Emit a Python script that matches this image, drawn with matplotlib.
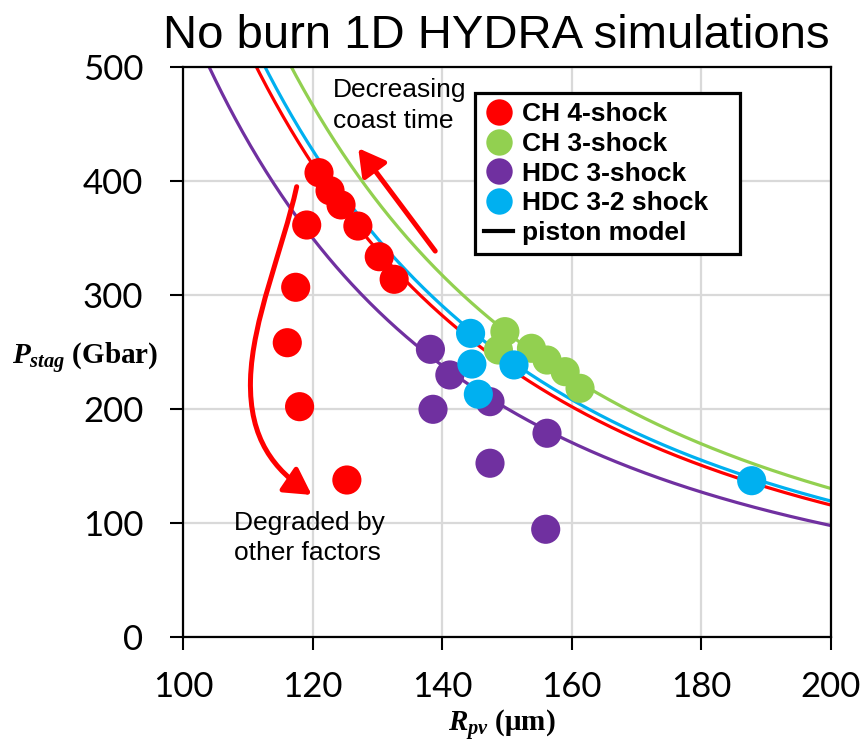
import matplotlib
matplotlib.use('Agg')
import matplotlib.pyplot as plt
import numpy as np
from matplotlib.lines import Line2D
from matplotlib.patches import FancyArrowPatch
from matplotlib.path import Path

plt.rcParams['font.family'] = ['Liberation Sans', 'DejaVu Sans']
plt.rcParams['mathtext.fontset'] = 'custom'
plt.rcParams['mathtext.it'] = 'Liberation Serif:italic:bold'
plt.rcParams['mathtext.rm'] = 'Liberation Serif:bold'
plt.rcParams['mathtext.bf'] = 'Liberation Serif:bold'

# ---------------- data ----------------
ch4_R = [121.0, 122.7, 124.4, 127.0, 130.3, 132.6, 119.1, 117.4, 116.1, 118.0, 125.3]
ch4_P = [406.9, 391.1, 378.6, 360.1, 333.2, 313.4, 361.0, 306.4, 257.8, 201.7, 137.4]

ch3_R = [149.7, 148.7, 153.8, 156.2, 159.0, 161.3]
ch3_P = [267.5, 251.4, 252.9, 242.6, 232.4, 217.8]

hdc3_R = [138.2, 141.2, 138.6, 147.4, 156.2, 147.4, 156.0]
hdc3_P = [252.0, 229.5, 199.4, 206.1, 178.4, 152.1, 94.2]

hdc32_R = [144.4, 144.6, 145.6, 151.1, 187.8]
hdc32_P = [266.0, 239.1, 212.6, 238.3, 136.8]

series_labels = ['CH 4-shock', 'CH 3-shock', 'HDC 3-shock', 'HDC 3-2 shock']
series_colors = ['#ff0000', '#92d050', '#7030a0', '#00b0f0']

# piston model: P = P_200 * (200 / R)^n
piston_P_at_200 = [115.5, 130.0, 97.5, 119.0]   # red, green, purple, blue
piston_colors = ['#ff0000', '#92d050', '#7030a0', '#00b0f0']
piston_exponent = 2.5

x_ticks = [100, 120, 140, 160, 180, 200]
y_ticks = [0, 100, 200, 300, 400, 500]

# ---------------- figure ----------------
W, H = 865, 747
fig = plt.figure(figsize=(W / 100, H / 100), dpi=100)
ax = fig.add_axes([183 / W, (H - 636.7) / H, 647.7 / W, 570.2 / H])

R = np.linspace(100, 200, 500)
for p200, c in zip(piston_P_at_200, piston_colors):
    ax.plot(R, p200 * (200.0 / R) ** piston_exponent, color=c, lw=2.3, zorder=2)

for xs, ys, c in zip([ch4_R, ch3_R, hdc3_R, hdc32_R],
                     [ch4_P, ch3_P, hdc3_P, hdc32_P], series_colors):
    ax.scatter(xs, ys, s=440, color=c, edgecolors='none', zorder=3)

ax.set_xlim(100, 200)
ax.set_ylim(0, 500)
ax.set_xticks(x_ticks)
ax.set_yticks(y_ticks)
ax.grid(True, color='#d9d9d9', lw=1.6)
ax.set_axisbelow(True)
for s in ax.spines.values():
    s.set_color('black')
    s.set_linewidth(1.6)
ax.tick_params(direction='out', length=9.5, width=1.5, labelsize=25, colors='black')
ax.tick_params(axis='y', pad=19)
ax.tick_params(axis='x', pad=15)
for lab in ax.get_xticklabels() + ax.get_yticklabels():
    lab.set_fontfamily('Lato')

# arrows
arr1 = FancyArrowPatch((139.2, 336.2), (126.8, 430.3),
                       arrowstyle='-|>,head_length=0.8,head_width=0.45',
                       mutation_scale=20, color='#ff0000', lw=3.6, zorder=4)
ax.add_patch(arr1)

verts = [(117.55, 394.6), (115.4, 339.1), (110.65, 277.7), (110.42, 225.1),
         (110.19, 172.5), (114.2, 146.2), (119.87, 124.3)]
codes = [Path.MOVETO, Path.CURVE4, Path.CURVE4, Path.CURVE4,
         Path.CURVE4, Path.CURVE4, Path.CURVE4]
arr2 = FancyArrowPatch(path=Path(verts, codes),
                       arrowstyle='-|>,head_length=0.8,head_width=0.45',
                       mutation_scale=20, color='#ff0000', lw=3.6, zorder=4)
ax.add_patch(arr2)

# annotations
ax.text(123.2, 489.5, 'Decreasing\ncoast time', fontsize=19, ha='left', va='top',
        linespacing=1.32, zorder=5)
ax.text(107.8, 110.5, 'Degraded by\nother factors', fontsize=19, ha='left', va='top',
        linespacing=1.32, zorder=5)

# legend
handles = [Line2D([], [], marker='o', ls='none', markersize=19,
                  markerfacecolor=c, markeredgecolor='none') for c in series_colors]
handles.append(Line2D([], [], color='black', lw=3))
labels = series_labels + ['piston model']
leg = ax.legend(handles, labels, loc='upper left',
                bbox_to_anchor=(0.4508, 0.0, 0.409, 0.954), mode='expand',
                borderaxespad=0, fancybox=False, framealpha=1,
                edgecolor='black', prop={'weight': 'bold', 'size': 19},
                labelspacing=0.22, handlelength=1.1, handletextpad=0.35,
                borderpad=0.35)
leg.get_frame().set_linewidth(2.3)
leg.set_zorder(6)

# title and axis labels
fig.text(496 / W, 1 - 48 / H, 'No burn 1D HYDRA simulations', fontsize=34,
         ha='center', va='baseline')
fig.text(12 / W, 1 - 365 / H, r'$P_{stag}$ (Gbar)', fontsize=21,
         family='Liberation Serif', weight='bold', ha='left', va='baseline')
fig.text(502 / W, 1 - 732 / H, r'$R_{pv}$ (μm)', fontsize=21,
         family='Liberation Serif', weight='bold', ha='center', va='baseline')

fig.savefig('out.png', dpi=100)
